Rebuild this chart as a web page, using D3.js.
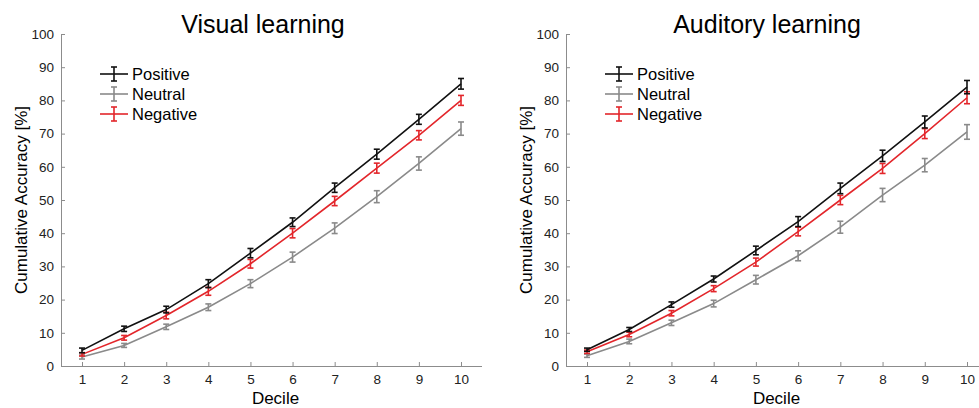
<!DOCTYPE html>
<html>
<head>
<meta charset="utf-8">
<script src="https://cdn.jsdelivr.net/npm/d3@7"></script>
<style>
  body { margin: 0; background: #fff; }
  svg { display: block; font-family: Arial, "Liberation Sans", sans-serif; }
</style>
</head>
<body>
<svg width="979" height="408"></svg>
<script>
// deciles on the x axis
var deciles = [1, 2, 3, 4, 5, 6, 7, 8, 9, 10];
var yTicks = [0, 10, 20, 30, 40, 50, 60, 70, 80, 90, 100];
var seriesNames = ["Positive", "Neutral", "Negative"];

// Visual learning
var visPositive = [4.7, 11.2, 17.0, 24.8, 34.0, 43.3, 53.7, 63.8, 74.3, 85.0];
var visPositiveErr = [0.7, 0.8, 1.0, 1.2, 1.4, 1.3, 1.4, 1.5, 1.5, 1.6];
var visNeutral = [2.7, 6.2, 11.8, 17.7, 24.8, 32.8, 41.5, 51.0, 61.0, 71.5];
var visNeutralErr = [0.6, 0.6, 0.8, 1.0, 1.2, 1.5, 1.6, 1.8, 2.0, 2.0];
var visNegative = [3.5, 8.5, 15.2, 22.5, 30.8, 40.0, 49.7, 59.6, 69.5, 80.0];
var visNegativeErr = [0.5, 0.7, 1.0, 1.2, 1.3, 1.4, 1.4, 1.5, 1.4, 1.5];

// Auditory learning
var audPositive = [4.9, 11.0, 18.5, 26.2, 34.8, 43.5, 53.5, 63.3, 73.5, 84.0];
var audPositiveErr = [0.5, 0.6, 0.8, 0.9, 1.3, 1.5, 1.6, 1.7, 1.8, 2.0];
var audNeutral = [3.1, 7.4, 13.0, 18.8, 26.0, 33.2, 41.8, 51.5, 60.5, 70.5];
var audNeutralErr = [0.5, 0.7, 0.8, 1.0, 1.3, 1.5, 1.8, 2.0, 2.0, 2.2];
var audNegative = [4.3, 9.5, 15.9, 23.3, 31.3, 40.5, 50.0, 59.5, 70.0, 80.8];
var audNegativeErr = [0.5, 0.7, 0.8, 0.9, 1.2, 1.3, 1.4, 1.5, 1.5, 1.8];

var colors = {"Positive": "#111111", "Neutral": "#8a8a8a", "Negative": "#e3262b"};

var svg = d3.select("svg");

function drawPanel(opt) {
    var xScale = d3.scaleLinear().domain([1, 10]).range([opt.x1, opt.x10]);
    var yScale = d3.scaleLinear().domain([0, 100]).range([366, 34]);
    var axisColor = "#8c8c8c";

    var g = svg.append("g");

    // title
    g.append("text")
        .attr("x", opt.titleX).attr("y", 33)
        .attr("text-anchor", "middle")
        .attr("font-size", "25px")
        .attr("fill", "#000")
        .text(opt.title);

    // x axis
    var xAxis = g.append("g")
        .attr("transform", "translate(0,366)")
        .call(d3.axisBottom(xScale).tickValues(deciles).tickSizeInner(-4).tickSizeOuter(0).tickPadding(8));
    xAxis.select(".domain").remove();
    xAxis.append("line")
        .attr("x1", opt.axisX).attr("x2", opt.axisEnd)
        .attr("y1", 0.5).attr("y2", 0.5)
        .attr("stroke", axisColor);

    // y axis
    var yAxis = g.append("g")
        .attr("transform", "translate(" + opt.axisX + ",0)")
        .call(d3.axisLeft(yScale).tickValues(yTicks).tickSizeInner(-4).tickSizeOuter(0).tickPadding(7));

    g.selectAll(".tick line").attr("stroke", axisColor);
    g.selectAll(".domain").attr("stroke", axisColor);
    g.selectAll(".tick text").attr("font-size", "13.5px").attr("fill", "#222")
        .attr("font-family", "Arial, 'Liberation Sans', sans-serif");

    // axis labels
    g.append("text")
        .attr("x", (opt.axisX + opt.axisEnd) / 2 + 4).attr("y", 404)
        .attr("text-anchor", "middle")
        .attr("font-size", "17px")
        .text("Decile");

    g.append("text")
        .attr("transform", "translate(" + opt.ylabX + ",200) rotate(-90)")
        .attr("text-anchor", "middle")
        .attr("font-size", "17px")
        .text("Cumulative Accuracy [%]");

    var line = d3.line()
        .x(function(d) { return xScale(d.x); })
        .y(function(d) { return yScale(d.y); });

    // draw neutral first, then negative, positive on top
    ["Neutral", "Negative", "Positive"].forEach(function(name) {
        var pts = deciles.map(function(x, i) {
            return {x: x, y: opt.values[name][i], e: opt.errors[name][i]};
        });
        var c = colors[name];
        g.append("path")
            .datum(pts)
            .attr("fill", "none")
            .attr("stroke", c)
            .attr("stroke-width", 1.6)
            .attr("d", line);

        var eb = g.selectAll(".eb-" + name + opt.key)
            .data(pts).enter().append("g");
        eb.append("line")
            .attr("x1", function(d) { return xScale(d.x); })
            .attr("x2", function(d) { return xScale(d.x); })
            .attr("y1", function(d) { return yScale(d.y - d.e); })
            .attr("y2", function(d) { return yScale(d.y + d.e); })
            .attr("stroke", c).attr("stroke-width", 1.6);
        [-1, 1].forEach(function(s) {
            eb.append("line")
                .attr("x1", function(d) { return xScale(d.x) - 3; })
                .attr("x2", function(d) { return xScale(d.x) + 3; })
                .attr("y1", function(d) { return yScale(d.y + s * d.e); })
                .attr("y2", function(d) { return yScale(d.y + s * d.e); })
                .attr("stroke", c).attr("stroke-width", 1.6);
        });
    });

    // legend
    seriesNames.forEach(function(name, i) {
        var ly = 74 + i * 20;
        var c = colors[name];
        var lx = opt.legendX;
        g.append("line").attr("x1", lx).attr("x2", lx + 28)
            .attr("y1", ly).attr("y2", ly).attr("stroke", c).attr("stroke-width", 1.6);
        g.append("line").attr("x1", lx + 14).attr("x2", lx + 14)
            .attr("y1", ly - 7).attr("y2", ly + 7).attr("stroke", c).attr("stroke-width", 1.6);
        g.append("line").attr("x1", lx + 11).attr("x2", lx + 17)
            .attr("y1", ly - 7).attr("y2", ly - 7).attr("stroke", c).attr("stroke-width", 1.6);
        g.append("line").attr("x1", lx + 11).attr("x2", lx + 17)
            .attr("y1", ly + 7).attr("y2", ly + 7).attr("stroke", c).attr("stroke-width", 1.6);
        g.append("text")
            .attr("x", lx + 32).attr("y", ly + 6)
            .attr("font-size", "16.5px")
            .attr("fill", "#000")
            .text(name);
    });
}

drawPanel({
    key: "vis",
    title: "Visual learning",
    titleX: 263,
    axisX: 61, axisEnd: 482,
    x1: 82, x10: 461,
    ylabX: 27,
    legendX: 100,
    values: {"Positive": visPositive, "Neutral": visNeutral, "Negative": visNegative},
    errors: {"Positive": visPositiveErr, "Neutral": visNeutralErr, "Negative": visNegativeErr}
});

drawPanel({
    key: "aud",
    title: "Auditory learning",
    titleX: 767,
    axisX: 566, axisEnd: 979,
    x1: 587, x10: 967,
    ylabX: 532,
    legendX: 605,
    values: {"Positive": audPositive, "Neutral": audNeutral, "Negative": audNegative},
    errors: {"Positive": audPositiveErr, "Neutral": audNeutralErr, "Negative": audNegativeErr}
});
</script>
</body>
</html>
